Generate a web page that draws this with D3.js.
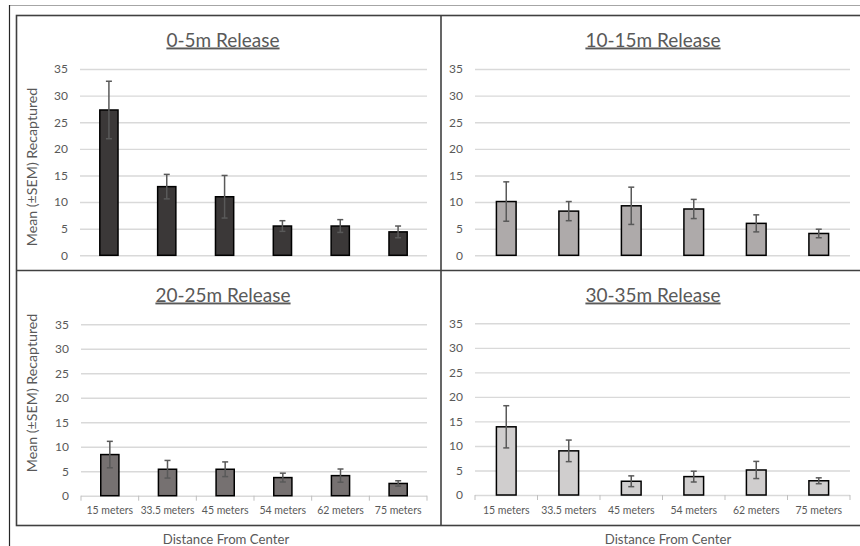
<!DOCTYPE html>
<html>
<head>
<meta charset="utf-8">
<script src="https://cdn.jsdelivr.net/npm/d3@7"></script>
<style>
    body { margin: 0; background: #fff; }
    svg text { font-family: Lato, "Noto Sans", sans-serif; fill: #595959; }
</style>
</head>
<body>
<div id="visualization"></div>
<script>
//categories on the x axis
const categories = ["15 meters", "33.5 meters", "45 meters", "54 meters", "62 meters", "75 meters"];
//panel titles
const panelTitles = ["0-5m Release", "10-15m Release", "20-25m Release", "30-35m Release"];
//mean recaptured per release distance
const mean0to5 = [27.3, 12.9, 11.0, 5.5, 5.5, 4.4];
const mean10to15 = [10.1, 8.3, 9.3, 8.7, 6.0, 4.1];
const mean20to25 = [8.4, 5.4, 5.4, 3.7, 4.1, 2.5];
const mean30to35 = [13.9, 9.0, 2.8, 3.75, 5.1, 2.9];
//standard error of the mean
const sem0to5 = [5.4, 2.3, 4.0, 1.0, 1.2, 1.1];
const sem10to15 = [3.7, 1.8, 3.5, 1.8, 1.6, 0.8];
const sem20to25 = [2.7, 1.8, 1.5, 0.9, 1.35, 0.55];
const sem30to35 = [4.3, 2.2, 1.1, 1.1, 1.75, 0.6];
//y axis ticks
const yTicks = [0, 5, 10, 15, 20, 25, 30, 35];

const width = 860, height = 546;

const svg = d3.select("#visualization")
    .append("svg")
        .attr("width", width)
        .attr("height", height);

//panel geometry, one per chart
const panels = [
    { title: panelTitles[0], means: mean0to5, sems: sem0to5, fill: "#3b3838",
      left: 80, right: 427, top: 69, bottom: 255.3, titleX: 223, titleY: 40, yLabel: true, xLabels: false },
    { title: panelTitles[1], means: mean10to15, sems: sem10to15, fill: "#aeaaaa",
      left: 475, right: 850, top: 69, bottom: 255.3, titleX: 653, titleY: 40, yLabel: false, xLabels: false },
    { title: panelTitles[2], means: mean20to25, sems: sem20to25, fill: "#767171",
      left: 81, right: 427, top: 324.3, bottom: 495.7, titleX: 223, titleY: 295, yLabel: true, xLabels: true },
    { title: panelTitles[3], means: mean30to35, sems: sem30to35, fill: "#d0cece",
      left: 475, right: 850, top: 323.3, bottom: 495, titleX: 653, titleY: 295, yLabel: false, xLabels: true }
];

//outer frame lines
svg.append("line")
    .attr("x1", 9).attr("x2", width).attr("y1", 5.5).attr("y2", 5.5)
    .attr("stroke", "#a6a6a6").attr("stroke-width", 1);
svg.append("line")
    .attr("x1", 9.5).attr("x2", 9.5).attr("y1", 5).attr("y2", height)
    .attr("stroke", "#262626").attr("stroke-width", 1.2);

//panel borders
const frame = svg.append("g")
    .attr("stroke", "#404040")
    .attr("stroke-width", 1.6)
    .attr("fill", "none");
frame.append("rect").attr("x", 16.5).attr("y", 15.5).attr("width", width).attr("height", 510);
frame.append("line").attr("x1", 441).attr("x2", 441).attr("y1", 15.5).attr("y2", 525.5);
frame.append("line").attr("x1", 16.5).attr("x2", width).attr("y1", 270.5).attr("y2", 270.5);

panels.forEach(p => drawPanel(p));

//x axis titles below the panels
[226, 668].forEach(cx => {
    svg.append("text")
        .attr("x", cx)
        .attr("y", 544)
        .attr("text-anchor", "middle")
        .attr("font-size", 13.2)
        .text("Distance From Center");
});

function drawPanel(p) {
    const g = svg.append("g");

    const x = d3.scaleBand()
        .domain(categories)
        .range([p.left, p.right])
        .paddingInner(0.685)
        .paddingOuter(0.3425);

    const y = d3.scaleLinear()
        .domain([0, 35])
        .range([p.bottom, p.top]);

    //title
    g.append("text")
        .attr("x", p.titleX)
        .attr("y", p.titleY + 6.5)
        .attr("text-anchor", "middle")
        .attr("font-size", 19)
        .attr("text-decoration", "underline")
        .text(p.title);

    //gridlines and y labels
    const yAxis = d3.axisLeft(y)
        .tickValues(yTicks)
        .tickSize(-(p.right - p.left))
        .tickPadding(12);
    const ay = g.append("g")
        .attr("transform", `translate(${p.left},0)`)
        .call(yAxis);
    ay.select(".domain").remove();
    ay.selectAll(".tick line")
        .attr("stroke", "#d9d9d9")
        .attr("stroke-width", 1.4);
    ay.selectAll(".tick text")
        .attr("font-size", 12)
        .attr("font-family", "Lato, sans-serif")
        .attr("fill", "#595959");

    //bottom axis with category labels
    if(p.xLabels) {
        const step = x.step();
        const edges = d3.range(categories.length + 1)
            .map(i => x(categories[0]) + x.bandwidth() / 2 - step / 2 + i * step);
        g.selectAll(".edge")
            .data(edges)
            .join("line")
                .attr("x1", d => d).attr("x2", d => d)
                .attr("y1", p.bottom).attr("y2", p.bottom + 5)
                .attr("stroke", "#bfbfbf")
                .attr("stroke-width", 1);

        const labels = g.selectAll(".xlabel")
            .data(categories)
            .join("text")
                .attr("x", d => x(d) + x.bandwidth() / 2)
                .attr("y", p.bottom + 18.5)
                .attr("text-anchor", "middle")
                .attr("font-size", 10.5)
                .text(d => d);
        //squeeze labels that do not fit their band
        labels.each(function() {
            const w = this.getComputedTextLength();
            if(w > step - 4)
                d3.select(this)
                    .attr("textLength", step - 4)
                    .attr("lengthAdjust", "spacingAndGlyphs");
        });
    }

    //bars
    g.selectAll(".bar")
        .data(p.means)
        .join("rect")
            .attr("x", (d, i) => x(categories[i]))
            .attr("y", d => y(d))
            .attr("width", x.bandwidth())
            .attr("height", d => y(0) - y(d))
            .attr("fill", p.fill)
            .attr("stroke", "#000")
            .attr("stroke-width", 1.5);

    //error bars
    const err = g.append("g")
        .attr("stroke", "#595959")
        .attr("stroke-width", 1.5);
    p.means.forEach((m, i) => {
        const cx = x(categories[i]) + x.bandwidth() / 2;
        const hi = y(m + p.sems[i]), lo = y(m - p.sems[i]);
        err.append("line").attr("x1", cx).attr("x2", cx).attr("y1", hi).attr("y2", lo);
        err.append("line").attr("x1", cx - 3).attr("x2", cx + 3).attr("y1", hi).attr("y2", hi);
        err.append("line").attr("x1", cx - 3).attr("x2", cx + 3).attr("y1", lo).attr("y2", lo);
    });

    //y axis title
    if(p.yLabel) {
        const cy = p.top === 69 ? 167 : 393;
        g.append("text")
            .attr("transform", `translate(37,${cy}) rotate(-90)`)
            .attr("text-anchor", "middle")
            .attr("font-size", 14.2)
            .text("Mean (±SEM) Recaptured");
    }
}
</script>
</body>
</html>
